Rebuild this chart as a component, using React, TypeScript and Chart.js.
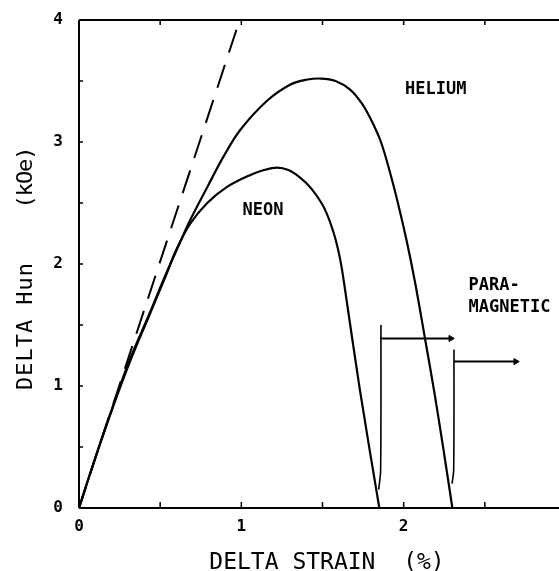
import React, { useEffect, useRef } from "react";
import { Chart, registerables } from "chart.js";

Chart.register(...registerables);

// ---- data ----
const heliumX = [0, 0.1, 0.21, 0.32, 0.43, 0.52, 0.6, 0.685, 0.79, 0.89, 0.994, 1.16, 1.3, 1.4, 1.49, 1.58, 1.67, 1.74, 1.8, 1.86, 1.92, 1.97, 2.02, 2.07, 2.13, 2.19, 2.245, 2.3];
const heliumY = [0, 0.41, 0.84, 1.24, 1.58, 1.87, 2.11, 2.36, 2.63, 2.88, 3.1, 3.34, 3.47, 3.51, 3.52, 3.5, 3.43, 3.32, 3.18, 3.0, 2.73, 2.47, 2.18, 1.85, 1.4, 0.94, 0.48, 0];

const neonX = [0, 0.1, 0.21, 0.32, 0.43, 0.54, 0.6, 0.685, 0.79, 0.91, 1.056, 1.14, 1.22, 1.29, 1.36, 1.43, 1.51, 1.57, 1.61, 1.64, 1.73, 1.85];
const neonY = [0, 0.41, 0.83, 1.22, 1.57, 1.92, 2.12, 2.33, 2.5, 2.63, 2.73, 2.77, 2.79, 2.77, 2.71, 2.62, 2.46, 2.25, 2.03, 1.78, 0.97, 0];

// drawn from the top end down so the dash pattern starts at the top
const dashedX = [0.97, 0];
const dashedY = [3.92, 0];

const boundary1X = [1.846, 1.858, 1.86];
const boundary1Y = [0.15, 0.31, 1.5];
const arrow1X = [1.86, 2.29];
const arrow1Y = [1.39, 1.39];

const boundary2X = [2.298, 2.308, 2.31];
const boundary2Y = [0.2, 0.31, 1.3];
const arrow2X = [2.31, 2.69];
const arrow2Y = [1.2, 1.2];

const xTickLabels = ["0", "1", "2"];
const yTickLabels = ["0", "1", "2", "3", "4"];

const xTitle = "DELTA STRAIN  (%)";
const yTitleMain = "DELTA Hun";
const yTitleUnit = "(kOe)";

const annotationTexts = ["HELIUM", "NEON", "PARA-", "MAGNETIC"];
const annotationX = [2.198, 1.133, 2.4, 2.4];
const annotationY = [3.43, 2.434, 1.82, 1.645];
const annotationAlign = ["center", "center", "left", "left"];

const zip = (xs: number[], ys: number[]) => xs.map((x, i) => ({ x, y: ys[i] }));

const framePlugin = {
  id: "frameAndText",
  afterDraw(chart: any) {
    const { ctx, chartArea, scales } = chart;
    const xs = scales.x;
    const ys = scales.y;
    const left = chartArea.left;
    const right = chart.width;
    const top = chartArea.top;
    const bottom = chartArea.bottom;
    ctx.save();
    ctx.strokeStyle = "#000";
    ctx.lineWidth = 2;
    ctx.lineCap = "butt";
    ctx.beginPath();
    ctx.moveTo(left, top);
    ctx.lineTo(right, top);
    ctx.moveTo(left, top);
    ctx.lineTo(left, bottom);
    ctx.moveTo(left, bottom);
    ctx.lineTo(right, bottom);
    ctx.stroke();

    // inward tick marks
    ctx.lineWidth = 1.5;
    ctx.beginPath();
    xs.ticks.forEach((t: any) => {
      const v = t.value;
      if (v <= xs.min + 1e-6 || v >= xs.max - 1e-6) return;
      if (Math.abs(v * 2 - Math.round(v * 2)) > 1e-6) return;
      const px = xs.getPixelForValue(v);
      ctx.moveTo(px, bottom);
      ctx.lineTo(px, bottom - 6);
      ctx.moveTo(px, top);
      ctx.lineTo(px, top + 5);
    });
    ys.ticks.forEach((t: any) => {
      const v = t.value;
      if (v <= ys.min + 1e-6 || v >= ys.max - 1e-6) return;
      const py = ys.getPixelForValue(v);
      ctx.moveTo(left, py);
      ctx.lineTo(left + 4, py);
    });
    ctx.stroke();

    // axis titles
    ctx.fillStyle = "#000";
    ctx.font = "23px 'DejaVu Sans Mono'";
    ctx.textAlign = "center";
    ctx.textBaseline = "alphabetic";
    ctx.fillText(xTitle, 327, 569);

    ctx.save();
    ctx.translate(32, 0);
    ctx.rotate(-Math.PI / 2);
    ctx.font = "22px 'DejaVu Sans Mono'";
    try { (ctx as any).letterSpacing = "1px"; } catch (e) {}
    ctx.fillText(yTitleMain, -326, 0);
    try { (ctx as any).letterSpacing = "-1px"; } catch (e) {}
    ctx.fillText(yTitleUnit, -178, 0);
    try { (ctx as any).letterSpacing = "0px"; } catch (e) {}
    ctx.restore();

    // annotations
    ctx.font = "bold 17px 'DejaVu Sans Mono'";
    ctx.textBaseline = "middle";
    annotationTexts.forEach((txt, i) => {
      ctx.textAlign = annotationAlign[i] as CanvasTextAlign;
      ctx.fillText(txt, xs.getPixelForValue(annotationX[i]), ys.getPixelForValue(annotationY[i]));
    });
    ctx.restore();
  },
};

export default function App() {
  const ref = useRef<HTMLCanvasElement | null>(null);
  useEffect(() => {
    if (!ref.current) return;
    const lineBase = {
      borderColor: "#000",
      pointRadius: 0,
      fill: false,
      showLine: true,
    };
    const chart = new Chart(ref.current, {
      type: "line",
      data: {
        datasets: [
          { ...lineBase, label: "Helium", data: zip(heliumX, heliumY), borderWidth: 2.2, tension: 0.35 },
          { ...lineBase, label: "Neon", data: zip(neonX, neonY), borderWidth: 2.2, tension: 0.35 },
          { ...lineBase, label: "Linear", data: zip(dashedX, dashedY), borderWidth: 2, borderDash: [24, 13] },
          { ...lineBase, label: "Boundary 1", data: zip(boundary1X, boundary1Y), borderWidth: 1.6, tension: 0.3 },
          { ...lineBase, label: "Arrow 1", data: zip(arrow1X, arrow1Y), borderWidth: 2, pointRadius: [0, 3.5], pointStyle: "triangle", rotation: 90, backgroundColor: "#000", pointBorderWidth: 1 },
          { ...lineBase, label: "Boundary 2", data: zip(boundary2X, boundary2Y), borderWidth: 1.6, tension: 0.3 },
          { ...lineBase, label: "Arrow 2", data: zip(arrow2X, arrow2Y), borderWidth: 2, pointRadius: [0, 3.5], pointStyle: "triangle", rotation: 90, backgroundColor: "#000", pointBorderWidth: 1 },
        ] as any,
      },
      options: {
        animation: false,
        responsive: false,
        maintainAspectRatio: false,
        layout: { padding: { top: 20, right: 0, left: 0, bottom: 0 } },
        plugins: { legend: { display: false }, tooltip: { enabled: false } },
        scales: {
          x: {
            type: "linear",
            min: 0,
            max: 2.926,
            afterFit: (s: any) => { s.height = 63; s.paddingLeft = 0; s.paddingRight = 0; },
            grid: { display: false, drawTicks: false },
            border: { display: false },
            ticks: {
              stepSize: 0.5,
              includeBounds: false,
              autoSkip: false,
              maxRotation: 0,
              padding: 9,
              color: "#000",
              font: { family: "'DejaVu Sans Mono'", size: 16, weight: "bold" },
              callback: (v: any) => (xTickLabels.includes(String(v)) ? String(v) : ""),
            },
          },
          y: {
            type: "linear",
            min: 0,
            max: 4,
            afterFit: (s: any) => { s.width = 79; s.paddingTop = 0; s.paddingBottom = 0; },
            grid: { display: false, drawTicks: false },
            border: { display: false },
            ticks: {
              stepSize: 0.5,
              autoSkip: false,
              padding: 16,
              color: "#000",
              font: { family: "'DejaVu Sans Mono'", size: 16, weight: "bold" },
              callback: (v: any) => (yTickLabels.includes(String(v)) ? String(v) : ""),
            },
          },
        },
      } as any,
      plugins: [framePlugin],
    });
    return () => chart.destroy();
  }, []);
  return (
    <div style={{ position: "absolute", left: 0, top: 0, width: 559, height: 571, background: "#fff" }}>
      <canvas ref={ref} width={559} height={571} style={{ display: "block", width: 559, height: 571 }} />
    </div>
  );
}
